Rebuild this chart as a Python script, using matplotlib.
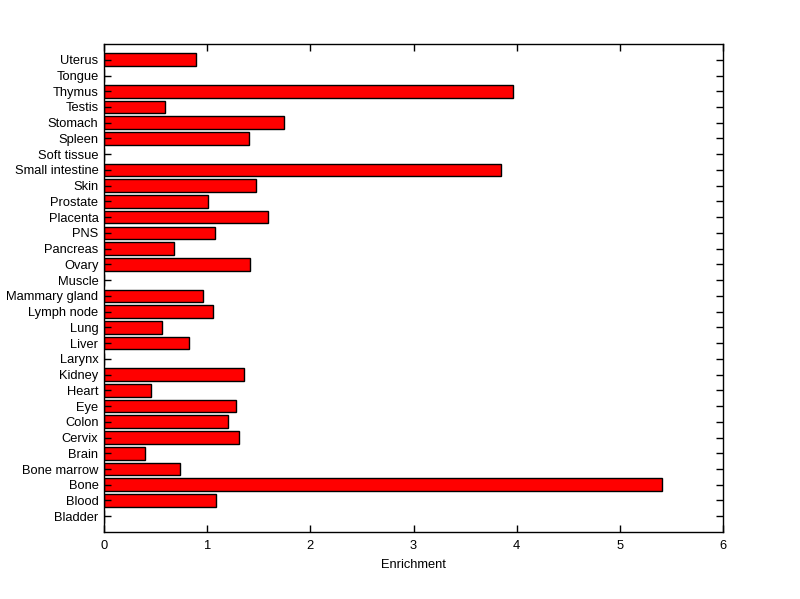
import numpy as np
import matplotlib
matplotlib.use("Agg")
import matplotlib.pyplot as plt

tissues = ["Bladder", "Blood", "Bone", "Bone marrow", "Brain", "Cervix", "Colon",
           "Eye", "Heart", "Kidney", "Larynx", "Liver", "Lung", "Lymph node",
           "Mammary gland", "Muscle", "Ovary", "Pancreas", "PNS", "Placenta",
           "Prostate", "Skin", "Small intestine", "Soft tissue", "Spleen",
           "Stomach", "Testis", "Thymus", "Tongue", "Uterus"]
enrichment = [0.0, 1.084, 5.41, 0.736, 0.397, 1.307, 1.20,
              1.278, 0.459, 1.355, 0.0, 0.823, 0.562, 1.059,
              0.962, 0.0, 1.414, 0.681, 1.075, 1.588,
              1.007, 1.472, 3.847, 0.0, 1.407,
              1.743, 0.594, 3.96, 0.0, 0.89]
xticks = [0, 1, 2, 3, 4, 5, 6]

plt.rcParams['font.family'] = ['Liberation Sans', 'DejaVu Sans']

fig = plt.figure(figsize=(8, 5.99), dpi=100)
ax = fig.add_axes([0.13, 0.1119, 0.774, 0.8146])

pos = np.arange(1, len(tissues) + 1)
ax.barh(pos, enrichment, height=0.8, color='#ff0000', edgecolor='black', linewidth=1)

ax.set_xlim(0, 6)
ax.set_ylim(0, len(tissues) + 1)
ax.set_xticks(xticks)
ax.set_xticklabels([str(t) for t in xticks])
ax.set_yticks(pos)
ax.set_yticklabels(tissues)
ax.tick_params(direction='in', length=5, width=1, labelsize=9.3,
               top=True, right=True)
ax.tick_params(axis='x', pad=6)
ax.tick_params(axis='y', pad=4)
for s in ax.spines.values():
    s.set_linewidth(1)
ax.set_xlabel("Enrichment", fontsize=9.3, labelpad=5)

fig.savefig("out.png", dpi=100)
